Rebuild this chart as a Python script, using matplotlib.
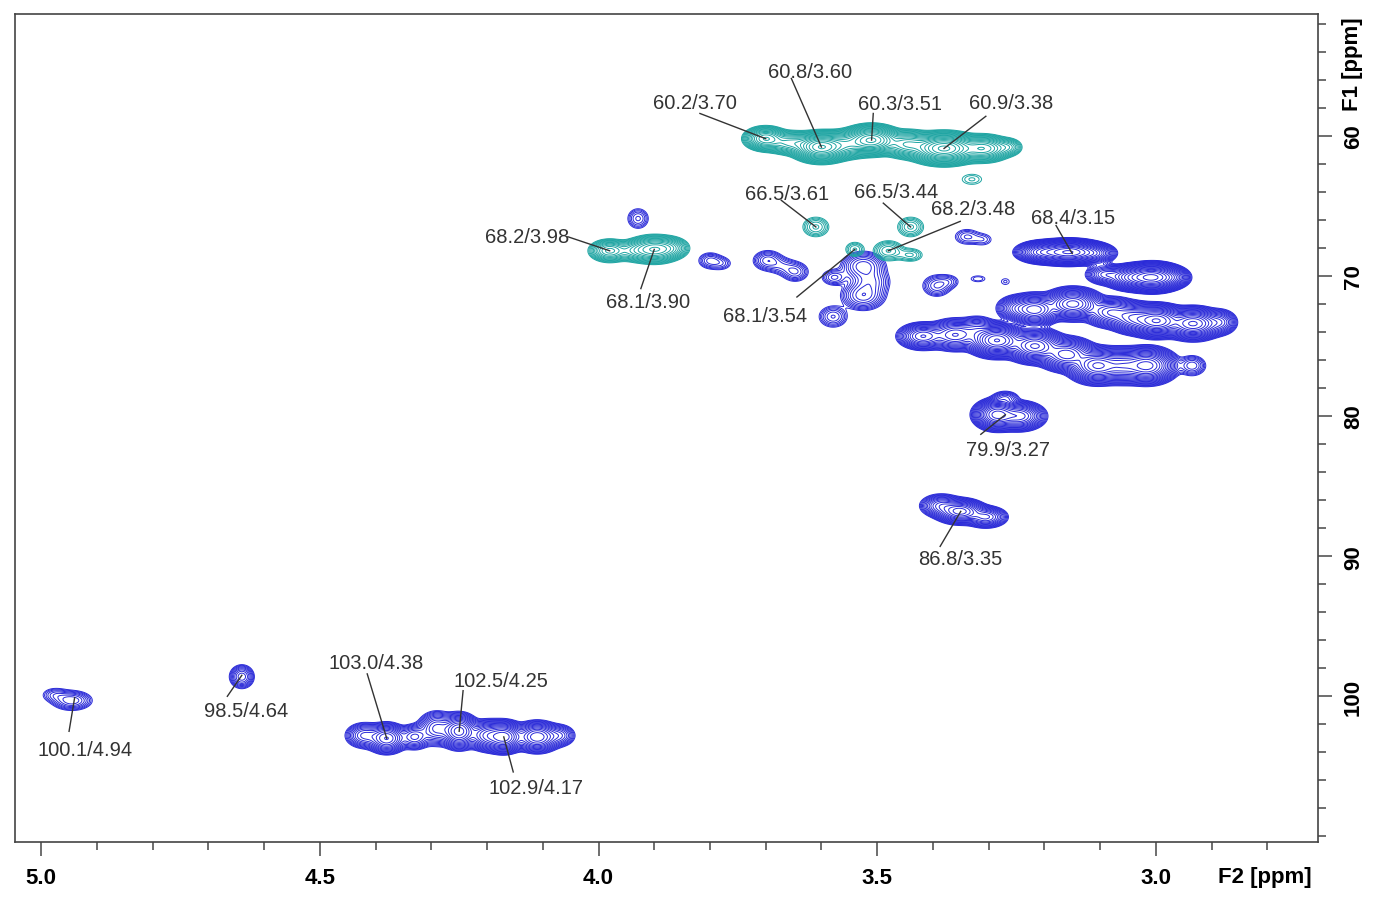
import numpy as np
import matplotlib
matplotlib.use("Agg")
import matplotlib.pyplot as plt
import matplotlib.ticker as ticker

plt.rcParams["font.family"] = ["Liberation Sans", "DejaVu Sans"]

# ---------------------------------------------------------------------------
# Cross peaks: F2 (1H, ppm), F1 (13C, ppm),
# line widths (ppm) and relative intensity.
# ---------------------------------------------------------------------------
# CH2 (negative phase, teal)
neg_f2 = [3.700, 3.655, 3.600, 3.555, 3.510, 3.445, 3.380, 3.310, 3.265,
          3.330, 3.610, 3.440, 3.540, 3.480, 3.440,
          3.980, 3.935, 3.900, 3.870]
neg_f1 = [60.2, 60.5, 60.8, 60.6, 60.3, 60.6, 60.9, 60.9, 60.8,
          63.1, 66.5, 66.5, 68.1, 68.2, 68.5,
          68.2, 68.2, 68.1, 68.0]
neg_w2 = [.016, .020, .020, .020, .020, .020, .024, .020, .012,
          .016, .014, .014, .011, .015, .014,
          .016, .016, .020, .015]
neg_w1 = [.35, .35, .40, .40, .40, .40, .42, .38, .30,
          .33, .42, .42, .34, .40, .30,
          .35, .35, .40, .35]
neg_amp = [40, 25, 150, 40, 120, 40, 160, 50, 8,
           1.8, 4, 4, 3, 5, 3,
           20, 10, 40, 10]

# CH / CH3 (positive phase, blue)
pos_f2 = [3.929, 3.800, 3.780, 3.696, 3.647, 3.670, 3.577,
          3.525, 3.525, 3.512, 3.579, 3.339, 3.310, 3.393, 3.372,
          3.319, 3.270,
          3.157, 3.205, 3.110, 3.100, 3.090, 3.040, 3.005, 2.970,
          3.250, 3.217, 3.149, 3.080, 3.040, 2.998, 2.933, 2.885,
          3.418, 3.360, 3.320, 3.285, 3.217, 3.160, 3.105, 3.060, 3.016,
          2.935, 3.285, 3.245, 3.270, 3.385, 3.351, 3.305,
          4.945, 4.975, 4.640,
          4.420, 4.380, 4.330, 4.290, 4.250, 4.200, 4.170, 4.110, 4.070]
pos_f1 = [65.9, 68.9, 69.1, 68.9, 69.7, 69.3, 70.1,
          69.3, 71.4, 70.4, 72.9, 67.2, 67.4, 70.7, 70.4,
          70.2, 70.4,
          68.3, 68.3, 68.4, 69.2, 69.9, 70.1, 70.1, 70.1,
          72.3, 72.4, 72.0, 72.6, 73.0, 73.2, 73.4, 73.3,
          74.3, 74.2, 73.8, 74.6, 75.0, 75.6, 76.4, 76.4, 76.4,
          76.4, 79.9, 80.0, 78.7, 86.4, 86.8, 87.2,
          100.3, 99.9, 98.6,
          102.8, 103.0, 102.9, 102.3, 102.5, 102.8, 102.9, 102.9, 102.8]
pos_w2 = [.011, .012, .012, .014, .013, .014, .013,
          .019, .019, .018, .014, .014, .012, .014, .012,
          .012, .0085,
          .025, .018, .015, .010, .015, .020, .020, .013,
          .015, .018, .020, .020, .018, .020, .020, .013,
          .018, .020, .015, .020, .020, .020, .020, .018, .020,
          .013, .016, .018, .012, .016, .018, .016,
          .018, .014, .0105,
          .015, .015, .013, .015, .014, .015, .015, .017, .013]
pos_w1 = [.42, .33, .30, .38, .38, .36, .33,
          .50, .50, .50, .42, .35, .30, .42, .30,
          .20, .25,
          .32, .30, .28, .30, .30, .35, .37, .30,
          .38, .43, .43, .43, .43, .43, .43, .38,
          .38, .45, .40, .44, .45, .46, .48, .48, .48,
          .38, .42, .40, .25, .35, .35, .32,
          .35, .30, .40,
          .40, .44, .40, .52, .50, .44, .44, .44, .36]
pos_amp = [4, 4, 2.5, 6, 5, 3, 4,
           10, 10, 6, 5, 3, 2, 5, 2.5,
           1.7, 1.4,
           200, 60, 30, 2.5, 20, 80, 200, 20,
           20, 80, 100, 40, 60, 150, 120, 20,
           40, 40, 15, 150, 120, 80, 120, 70, 130,
           6, 100, 60, 6, 20, 60, 25,
           8, 3, 10,
           15, 40, 15, 20, 60, 40, 80, 50, 10]

# Assignment labels "F1/F2" as printed on the spectrum
labels = ["60.8/3.60", "60.2/3.70", "60.3/3.51", "60.9/3.38",
          "66.5/3.61", "66.5/3.44", "68.2/3.48", "68.1/3.54",
          "68.2/3.98", "68.1/3.90", "68.4/3.15", "79.9/3.27",
          "86.8/3.35", "100.1/4.94", "98.5/4.64", "103.0/4.38",
          "102.5/4.25", "102.9/4.17"]

x_ticks = [5.0, 4.5, 4.0, 3.5, 3.0]
y_ticks = [60, 70, 80, 90, 100]

# label text centre and leader start (F2, F1)
label_pos = [(3.620, 55.4), (3.827, 57.6), (3.459, 57.7), (3.260, 57.6),
             (3.662, 64.1), (3.466, 64.0), (3.328, 65.2), (3.701, 72.8),
             (4.128, 67.2), (3.911, 71.8), (3.149, 65.8), (3.265, 82.4),
             (3.351, 90.2), (4.921, 103.8), (4.632, 101.0), (4.399, 97.6),
             (4.175, 98.9), (4.112, 106.5)]
lead_pos = [(3.654, 55.9), (3.818, 58.4), (3.507, 58.4), (3.305, 58.6),
            (3.672, 64.6), (3.489, 64.8), (3.351, 66.1), (3.644, 71.5),
            (4.055, 67.2), (3.924, 70.9), (3.179, 66.4), (3.314, 81.3),
            (3.387, 89.3), (4.950, 102.5), (4.666, 100.0), (4.415, 98.4),
            (4.243, 99.6), (4.153, 105.4)]


def spectrum(f2, f1, w2, w1, amp, X, Y):
    Z = np.zeros_like(X)
    for cx, cy, sx, sy, a in zip(f2, f1, w2, w1, amp):
        Z += a * np.exp(-0.5 * (((X - cx) / sx) ** 2 + ((Y - cy) / sy) ** 2))
    return Z


x = np.linspace(2.70, 5.06, 1400)
y = np.linspace(51.0, 111.0, 800)
X, Y = np.meshgrid(x, y)
Zpos = spectrum(pos_f2, pos_f1, pos_w2, pos_w1, pos_amp, X, Y)
Zneg = spectrum(neg_f2, neg_f1, neg_w2, neg_w1, neg_amp, X, Y)

levels = 1.0 * 1.3 ** np.arange(0, 26)

fig = plt.figure(figsize=(13.74, 9.04), dpi=100)
ax = fig.add_axes([15 / 1374, 61 / 904, 1303 / 1374, 828 / 904])

ax.contour(X, Y, Zpos, levels=levels, colors="#2a2ad8", linewidths=0.7)
ax.contour(X, Y, Zneg, levels=levels, colors="#1fa5a3", linewidths=0.7)

for txt, (tx, ty), (lx, ly) in zip(labels, label_pos, lead_pos):
    c1, c2 = (float(v) for v in txt.split("/"))
    ax.plot([lx, c2], [ly, c1], color="#333333", lw=1.0)
    ax.text(tx, ty, txt, ha="center", va="center", fontsize=14.5,
            color="#333333")

ax.set_xlim(5.047, 2.709)
ax.set_ylim(110.4, 51.3)

ax.xaxis.set_major_locator(ticker.FixedLocator(x_ticks))
ax.xaxis.set_minor_locator(ticker.MultipleLocator(0.1))
ax.xaxis.set_major_formatter(ticker.FormatStrFormatter("%.1f"))
ax.yaxis.set_major_locator(ticker.FixedLocator(y_ticks))
ax.yaxis.set_minor_locator(ticker.MultipleLocator(2))
ax.yaxis.tick_right()
ax.tick_params(axis="both", which="both", direction="out", color="#555555",
               width=1.2)
ax.tick_params(axis="both", which="major", length=10, pad=8,
               labelsize=16)
ax.tick_params(axis="both", which="minor", length=6)
for lab in ax.get_xticklabels() + ax.get_yticklabels():
    lab.set_fontweight("bold")
for lab in ax.get_yticklabels():
    lab.set_rotation(90)
    lab.set_va("center")
for sp in ax.spines.values():
    sp.set_color("#444444")
    sp.set_linewidth(1.2)

ax.text(0.959, -0.042, "F2 [ppm]", transform=ax.transAxes, ha="center",
        va="center", fontsize=16, fontweight="bold")
ax.text(1.0265, 0.94, "F1 [ppm]", transform=ax.transAxes, ha="center",
        va="center", fontsize=16, fontweight="bold", rotation=90)

fig.savefig("out.png", dpi=100)
